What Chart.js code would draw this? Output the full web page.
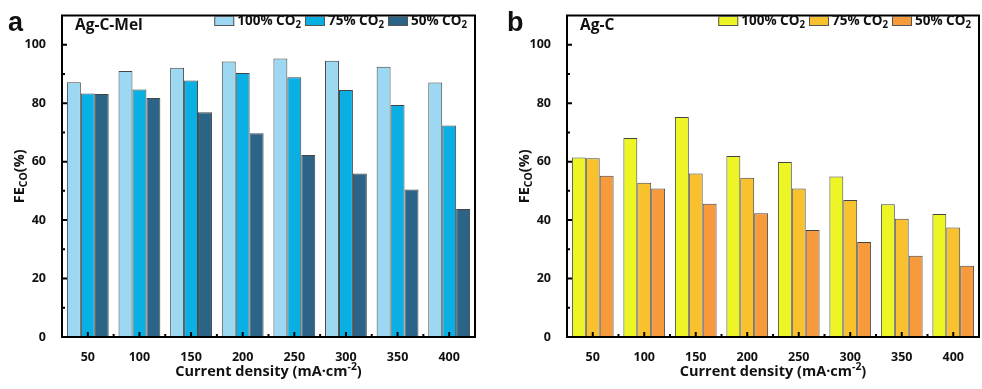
<!DOCTYPE html>
<html>
<head>
<meta charset="utf-8">
<script src="https://cdn.jsdelivr.net/npm/chart.js@4.4.1/dist/chart.umd.min.js"></script>
<style>
  body { margin: 0; background: #fff; }
  .wrap { display: flex; width: 982px; height: 389px; }
  .panel { position: relative; width: 491px; height: 389px; }
</style>
</head>
<body>
<div class="wrap">
  <div class="panel"><canvas id="chartA"></canvas></div>
  <div class="panel"><canvas id="chartB"></canvas></div>
</div>
<script>
// data
const densities = ["50", "100", "150", "200", "250", "300", "350", "400"];
const seriesNames = ["100% CO", "75% CO", "50% CO"];

const agcMel100 = [87.2, 91.0, 92.1, 94.3, 95.3, 94.5, 92.5, 87.1];
const agcMel75 = [83.3, 84.7, 87.8, 90.3, 88.9, 84.5, 79.4, 72.4];
const agcMel50 = [83.1, 81.8, 76.9, 69.7, 62.3, 55.9, 50.5, 43.8];

const agc100 = [61.4, 68.1, 75.3, 61.9, 59.9, 54.9, 45.4, 42.1];
const agc75 = [61.2, 52.8, 55.9, 54.5, 50.8, 46.9, 40.5, 37.5];
const agc50 = [55.2, 50.8, 45.6, 42.3, 36.6, 32.5, 27.8, 24.4];

const yTicks = [0, 20, 40, 60, 80, 100];

const colorsA = ["#9dd8f2", "#0aafe3", "#2b6486"];
const colorsB = ["#eef524", "#fac12e", "#f79a3b"];

const FONT = '"Open Sans", "DejaVu Sans", sans-serif';

// draw text pieces with sub/superscripts, centered at (x, y)
function richText(ctx, parts, x, y, size, align) {
  let total = 0;
  parts.forEach(function (p) {
    const s = p.s || p.u ? size * 0.72 : size;
    ctx.font = "bold " + s + "px " + FONT;
    p.w = ctx.measureText(p.t).width;
    p.size = s;
    total += p.w;
  });
  let cx = align === "left" ? x : x - total / 2;
  ctx.textBaseline = "middle";
  ctx.textAlign = "left";
  parts.forEach(function (p) {
    ctx.font = "bold " + p.size + "px " + FONT;
    let dy = 0;
    if (p.s) dy = size * 0.3;
    if (p.u) dy = -size * 0.35;
    ctx.fillText(p.t, cx, y + dy);
    cx += p.w;
  });
  return total;
}

const framePlugin = {
  id: "frame",
  afterDraw: function (chart, args, opts) {
    const ctx = chart.ctx;
    const a = chart.chartArea;
    const xs = chart.scales.x;
    const ys = chart.scales.y;
    ctx.save();
    ctx.strokeStyle = "#000";
    ctx.lineWidth = 2;
    ctx.strokeRect(a.left, a.top, a.right - a.left, a.bottom - a.top);

    // inward ticks
    ctx.lineWidth = 2;
    ctx.beginPath();
    for (let v = 10; v <= 100; v += 10) {
      const y = ys.getPixelForValue(v);
      const len = v % 20 === 0 ? 5 : 3;
      ctx.moveTo(a.left, y);
      ctx.lineTo(a.left + len, y);
    }
    const step = (a.right - a.left) / densities.length;
    for (let i = 0; i < densities.length; i++) {
      const x = xs.getPixelForValue(i);
      ctx.moveTo(x, a.bottom);
      ctx.lineTo(x, a.bottom - 5);
      if (i > 0) {
        const xb = a.left + step * i;
        ctx.moveTo(xb, a.bottom);
        ctx.lineTo(xb, a.bottom - 3);
      }
    }
    ctx.stroke();

    ctx.fillStyle = "#111";
    // y title
    ctx.save();
    ctx.translate(opts.yTitleX, (a.top + a.bottom) / 2);
    ctx.rotate(-Math.PI / 2);
    richText(ctx, [{ t: "FE" }, { t: "CO", s: true }, { t: "(%)" }], 0, 0, 14.5);
    ctx.restore();

    // x title
    richText(ctx, [{ t: "Current density (mA·cm" }, { t: "-2", u: true }, { t: ")" }],
      (a.left + a.right) / 2, 372, 14.5);

    // panel letter
    ctx.font = "bold 27px 'Liberation Sans', Arial, sans-serif";
    ctx.textAlign = "left";
    ctx.textBaseline = "middle";
    ctx.fillText(opts.letter, opts.letterX, 24);

    // sample name
    richText(ctx, [{ t: opts.sample }], a.left + 13, 26, 15.5, "left");

    // legend, right aligned inside the plot area
    const sets = chart.data.datasets;
    const boxW = 20, boxH = 10, gap = 3, itemGap = 4;
    const widths = sets.map(function (d) {
      ctx.font = "bold 13.5px " + FONT;
      const w1 = ctx.measureText(d.label).width;
      ctx.font = "bold " + (13.5 * 0.72) + "px " + FONT;
      return boxW + gap + w1 + ctx.measureText("2").width;
    });
    let total = widths.reduce(function (s, w) { return s + w; }, 0) + itemGap * (sets.length - 1);
    let lx = a.right - 8 - total;
    const ly = 21;
    sets.forEach(function (d, i) {
      ctx.fillStyle = d.backgroundColor;
      ctx.fillRect(lx, ly - boxH / 2, boxW, boxH);
      ctx.strokeStyle = "#555";
      ctx.lineWidth = 1;
      ctx.strokeRect(lx + 0.5, ly - boxH / 2 + 0.5, boxW - 1, boxH - 1);
      ctx.fillStyle = "#111";
      richText(ctx, [{ t: d.label }, { t: "2", s: true }], lx + boxW + gap, ly, 13.5, "left");
      lx += widths[i] + itemGap;
    });
    ctx.restore();
  }
};

function makeChart(id, values, colors, opts) {
  const datasets = values.map(function (vals, i) {
    return {
      label: seriesNames[i],
      data: vals,
      backgroundColor: colors[i],
      borderColor: "#444",
      borderWidth: 1,
      categoryPercentage: 0.81,
      barPercentage: 1.0
    };
  });
  return new Chart(document.getElementById(id), {
    type: "bar",
    data: { labels: densities, datasets: datasets },
    options: {
      responsive: false,
      animation: false,
      layout: { padding: { top: 8, right: opts.padRight, left: 0, bottom: 0 } },
      plugins: {
        legend: { display: false },
        tooltip: { enabled: false },
        frame: opts
      },
      scales: {
        x: {
          grid: { display: false },
          border: { display: false },
          ticks: { color: "#111", font: { family: FONT, size: 12.5, weight: "bold" }, padding: 5 },
          afterFit: function (s) { s.height = 52; }
        },
        y: {
          min: 0,
          max: 110,
          grid: { display: false },
          border: { display: false },
          afterBuildTicks: function (s) {
            s.ticks = yTicks.map(function (v) { return { value: v }; });
          },
          ticks: { color: "#111", font: { family: FONT, size: 12.5, weight: "bold" }, padding: 8 },
          afterFit: function (s) { s.width = opts.yWidth; }
        }
      }
    },
    plugins: [framePlugin]
  });
}

document.getElementById("chartA").width = 491;
document.getElementById("chartA").height = 389;
document.getElementById("chartB").width = 491;
document.getElementById("chartB").height = 389;

makeChart("chartA", [agcMel100, agcMel75, agcMel50], colorsA,
  { letter: "a", letterX: 8, sample: "Ag-C-Mel", yTitleX: 20, yWidth: 62, padRight: 16 });
makeChart("chartB", [agc100, agc75, agc50], colorsB,
  { letter: "b", letterX: 16, sample: "Ag-C", yTitleX: 34, yWidth: 76, padRight: 3 });
</script>
</body>
</html>
